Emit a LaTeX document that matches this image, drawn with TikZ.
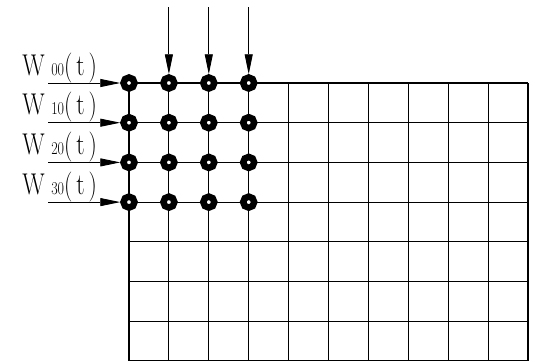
\documentclass[tikz,border=0pt]{standalone}
\usepackage{tikz}
\usetikzlibrary{calc}
\usetikzlibrary{arrows.meta}

\tikzset{
  cell/.style={circle, draw=black, line width=6.5pt, fill=white,
    minimum size=11pt, inner sep=0pt},
  feed/.style={-{Triangle[length=20pt,width=8pt]}, line width=0.9pt},
  gridline/.style={line width=1.1pt},
  wlabel/.style={anchor=base east, inner sep=0pt, xscale=0.78,
    transform shape, font=\fontsize{30}{30}\selectfont}
}
\newcommand{\wsub}[1]{\;{\fontsize{18}{18}\selectfont #1}}

\begin{document}
\begin{tikzpicture}[x=1pt,y=-1pt]

\useasboundingbox (0,0) rectangle (538,362);

% Grid lines
\foreach \r in {0,...,7} {
  \draw[gridline] (129,{83+39.7*\r}) -- (528,{83+39.7*\r});
}
\foreach \c in {0,...,10} {
  \draw[gridline] ({129+39.9*\c},83) -- ({129+39.9*\c},361);
}

% Cells
\foreach \r in {0,...,3} {
  \foreach \c in {0,...,3} {
    \node[cell] (n\r\c) at ({129+39.9*\c},{83+39.7*\r}) {};
  }
}

% Inputs from the top
\foreach \c in {1,2,3} {
  \coordinate (top\c) at ({129+39.9*\c},7);
  \draw[feed] (top\c) -- (n0\c.north);
}

% Inputs from the left
\foreach \r in {0,...,3} {
  \coordinate (in\r) at (48,{83+39.7*\r});
  \draw[feed] (in\r) -- (n\r0.west);
  \node[wlabel] (w\r) at (97,{75+39.7*\r}) {W\wsub{\r0}(\,t\,)};
}

\end{tikzpicture}
\end{document}
